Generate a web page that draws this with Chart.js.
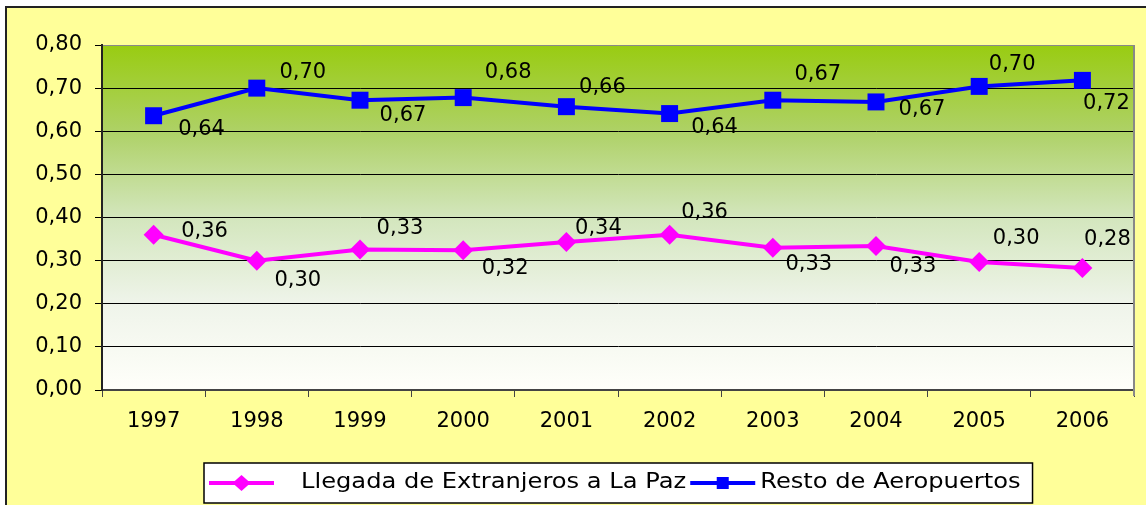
<!DOCTYPE html>
<html lang="es">
<head>
    <meta charset="UTF-8">
    <title>Llegada de Extranjeros</title>
    <script src="https://cdn.jsdelivr.net/npm/chart.js"></script>
    <style>
        html, body { margin: 0; padding: 0; background: #fff; }
        canvas { display: block; }
    </style>
</head>
<body>
    <canvas id="chart" width="1146" height="505"></canvas>

    <script>
        // datos
        const years = ['1997', '1998', '1999', '2000', '2001', '2002', '2003', '2004', '2005', '2006'];
        const laPaz = [0.360, 0.300, 0.326, 0.324, 0.343, 0.360, 0.330, 0.334, 0.297, 0.283];
        const resto = [0.636, 0.700, 0.672, 0.678, 0.657, 0.641, 0.672, 0.668, 0.704, 0.718];
        const yTicks = [0, 0.1, 0.2, 0.3, 0.4, 0.5, 0.6, 0.7, 0.8];

        // desplazamiento de cada etiqueta respecto a su punto (solo maquetacion)
        const laPazLabelOffsets = [[51, -3], [41, 20], [40, -21], [42, 18], [32, -14], [35, -22], [36, 17], [37, 21], [37, -23], [25, -28]];
        const restoLabelOffsets = [[48, 14], [46, -16], [43, 15], [45, -25], [36, -19], [45, 14], [45, -26], [46, 8], [33, -22], [24, 23]];

        const FONT = 'DejaVu Sans';
        const fmt = v => v.toFixed(2).replace('.', ',');

        const backgroundPlugin = {
            id: 'background',
            beforeDraw(chart) {
                const ctx = chart.ctx;
                const a = chart.chartArea;
                ctx.save();
                ctx.fillStyle = '#ffffff';
                ctx.fillRect(0, 0, chart.width, chart.height);
                ctx.fillStyle = '#ffff99';
                ctx.fillRect(7, 8, chart.width, chart.height);
                ctx.strokeStyle = '#222';
                ctx.lineWidth = 2;
                ctx.beginPath();
                ctx.moveTo(6, chart.height);
                ctx.lineTo(6, 7);
                ctx.lineTo(chart.width, 7);
                ctx.stroke();
                // degradado verde del area de trazado
                const g = ctx.createLinearGradient(0, a.top, 0, a.bottom);
                g.addColorStop(0, '#99cc11');
                g.addColorStop(0.25, '#aed166');
                g.addColorStop(0.5, '#d3e6bd');
                g.addColorStop(0.75, '#eff4ea');
                g.addColorStop(1, '#fffffa');
                ctx.fillStyle = g;
                ctx.fillRect(a.left, a.top, a.right - a.left, a.bottom - a.top);
                ctx.restore();
            },
            beforeDatasetsDraw(chart) {
                const ctx = chart.ctx;
                const a = chart.chartArea;
                ctx.save();
                ctx.strokeStyle = '#888';
                ctx.lineWidth = 2;
                ctx.beginPath();
                ctx.moveTo(a.right, a.top);
                ctx.lineTo(a.right, a.bottom + 6);
                ctx.stroke();
                ctx.restore();
            }
        };

        const labelsPlugin = {
            id: 'pointLabels',
            afterDatasetsDraw(chart) {
                const ctx = chart.ctx;
                ctx.save();
                ctx.font = '21px "' + FONT + '"';
                ctx.fillStyle = '#000';
                ctx.textAlign = 'center';
                ctx.textBaseline = 'middle';
                chart.data.datasets.forEach((ds, i) => {
                    chart.getDatasetMeta(i).data.forEach((pt, j) => {
                        const off = ds.labelOffsets[j];
                        ctx.fillText(fmt(ds.data[j]), pt.x + off[0], pt.y + off[1]);
                    });
                });
                ctx.restore();
            }
        };

        const legendPlugin = {
            id: 'boxLegend',
            afterDraw(chart) {
                const ctx = chart.ctx;
                const a = chart.chartArea;
                const sx = 1.15; // el texto de la leyenda va algo ensanchado
                ctx.save();
                ctx.font = '21px "' + FONT + '"';
                const ds = chart.data.datasets;
                const lineW = 65;
                const w0 = ctx.measureText(ds[0].label).width * sx;
                const w1 = ctx.measureText(ds[1].label).width * sx;
                const total = 5 + lineW + 27 + w0 + 4 + lineW + 5 + w1 + 12;
                const left = Math.round((a.left + a.right) / 2 - total / 2);
                const top = 463, h = 40, cy = top + h / 2;
                ctx.fillStyle = '#fff';
                ctx.fillRect(left, top, total, h);
                ctx.strokeStyle = '#000';
                ctx.lineWidth = 1.5;
                ctx.strokeRect(left, top, total, h);

                let x = left + 5;
                [[ds[0], w0, 27], [ds[1], w1, 5]].forEach(([d, w, gap]) => {
                    ctx.strokeStyle = d.borderColor;
                    ctx.lineWidth = 4;
                    ctx.beginPath();
                    ctx.moveTo(x, cy);
                    ctx.lineTo(x + lineW, cy);
                    ctx.stroke();
                    ctx.fillStyle = d.borderColor;
                    const mx = x + lineW / 2;
                    if (d.pointStyle === 'rect') {
                        ctx.fillRect(mx - 6, cy - 6, 12, 12);
                    } else {
                        ctx.beginPath();
                        ctx.moveTo(mx, cy - 8);
                        ctx.lineTo(mx + 9, cy);
                        ctx.lineTo(mx, cy + 8);
                        ctx.lineTo(mx - 9, cy);
                        ctx.closePath();
                        ctx.fill();
                    }
                    x += lineW + gap;
                    ctx.fillStyle = '#000';
                    ctx.textAlign = 'left';
                    ctx.textBaseline = 'middle';
                    ctx.save();
                    ctx.translate(x, cy);
                    ctx.scale(sx, 1);
                    ctx.fillText(d.label, 0, 0);
                    ctx.restore();
                    x += w + 4;
                });
                ctx.restore();
            }
        };

        new Chart(document.getElementById('chart'), {
            type: 'line',
            data: {
                labels: years,
                datasets: [{
                    label: 'Llegada de Extranjeros a La Paz',
                    data: laPaz,
                    labelOffsets: laPazLabelOffsets,
                    borderColor: '#ff00ff',
                    backgroundColor: '#ff00ff',
                    borderWidth: 4,
                    pointStyle: 'rectRot',
                    pointRadius: 10,
                    pointBorderWidth: 0,
                    tension: 0
                }, {
                    label: 'Resto de Aeropuertos',
                    data: resto,
                    labelOffsets: restoLabelOffsets,
                    borderColor: '#0000ff',
                    backgroundColor: '#0000ff',
                    borderWidth: 4,
                    pointStyle: 'rect',
                    pointRadius: 12,
                    pointBorderWidth: 0,
                    tension: 0
                }]
            },
            options: {
                responsive: false,
                animation: false,
                layout: { padding: { top: 45, right: 11, bottom: 65, left: 0 } },
                plugins: { legend: { display: false }, tooltip: { enabled: false } },
                scales: {
                    x: {
                        offset: true,
                        grid: {
                            offset: true,
                            drawOnChartArea: false,
                            tickLength: 7,
                            color: '#444'
                        },
                        border: { color: '#444', width: 2 },
                        ticks: { color: '#000', padding: 12, font: { family: FONT, size: 21 } },
                        afterFit: s => { s.height = 50; }
                    },
                    y: {
                        min: 0,
                        max: 0.8,
                        afterBuildTicks: s => { s.ticks = yTicks.map(v => ({ value: v })); },
                        grid: {
                            color: c => c.tick && c.tick.value === 0.8 ? '#888' : '#000',
                            lineWidth: 1,
                            tickLength: 7,
                            tickColor: '#000'
                        },
                        border: { color: '#222', width: 2 },
                        ticks: {
                            color: '#000',
                            padding: 13,
                            font: { family: FONT, size: 21 },
                            callback: v => fmt(v)
                        },
                        afterFit: s => { s.width = 102; }
                    }
                }
            },
            plugins: [backgroundPlugin, labelsPlugin, legendPlugin]
        });
    </script>
</body>
</html>
